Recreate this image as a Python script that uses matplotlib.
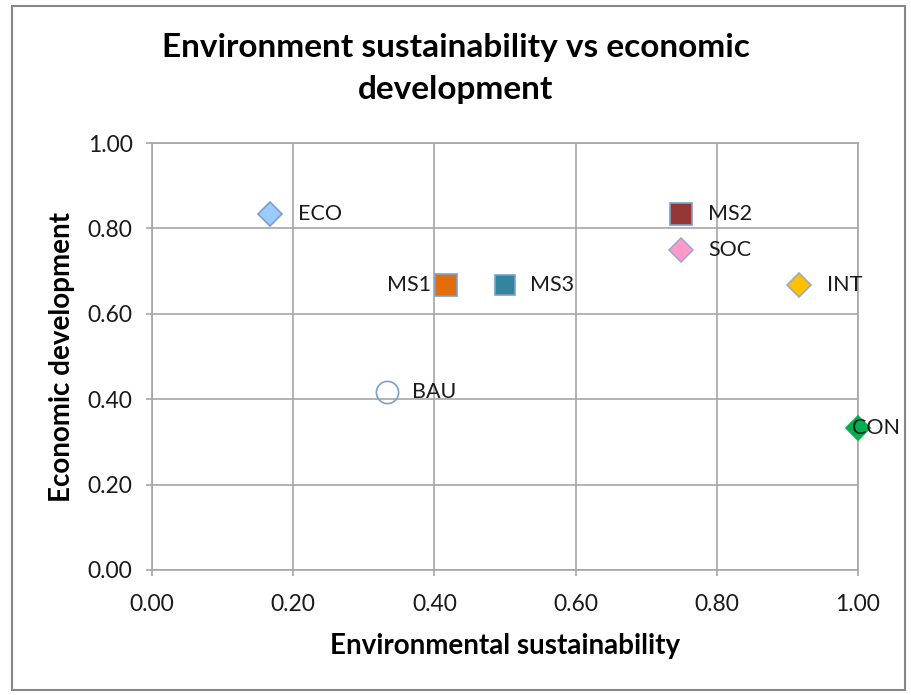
import matplotlib.pyplot as plt
from matplotlib.patches import Rectangle

plt.rcParams['font.family'] = ['Lato', 'DejaVu Sans']

names = ['ECO', 'MS1', 'MS3', 'MS2', 'SOC', 'INT', 'BAU', 'CON']
env = [0.167, 0.417, 0.500, 0.750, 0.750, 0.917, 0.333, 1.000]
eco = [0.833, 0.667, 0.667, 0.833, 0.750, 0.667, 0.417, 0.333]

markers = ['D', 's', 's', 's', 'D', 'D', 'o', 'D']
faces = ['#99ccff', '#e46c0a', '#31859c', '#953735', '#ff99cc', '#ffc000', 'none', '#00b050']
edges = ['#7ba0cd', '#7ba0cd', '#7ba0cd', '#7ba0cd', '#a0a8d0', '#a0a8c0', '#7ba0cd', '#00b050']
sizes = [12, 16, 15, 16, 12, 12, 16, 12]
# label offsets in points and alignment
offs = [(20, 'left'), (-11, 'right'), (18, 'left'), (19, 'left'),
        (19, 'left'), (20, 'left'), (18, 'left'), (-4, 'left')]

fig = plt.figure(figsize=(9.11, 6.95), dpi=100)
ax = fig.add_axes([152/911, 125/695, 706/911, 427/695])

for i in range(len(names)):
    ax.plot(env[i], eco[i], marker=markers[i], markersize=sizes[i],
            markerfacecolor=faces[i], markeredgecolor=edges[i],
            markeredgewidth=1.2, linestyle='none', zorder=3, clip_on=False)
    dx, ha = offs[i]
    ax.annotate(names[i], (env[i], eco[i]), xytext=(dx, 0), textcoords='offset points',
                ha=ha, va='center', fontsize=15.5, color='#1a1a1a', zorder=4)

ax.set_xlim(0, 1)
ax.set_ylim(0, 1)
ax.set_xticks([0, 0.2, 0.4, 0.6, 0.8, 1.0])
ax.set_yticks([0, 0.2, 0.4, 0.6, 0.8, 1.0])
ax.set_xticklabels(['%.2f' % v for v in ax.get_xticks()])
ax.set_yticklabels(['%.2f' % v for v in ax.get_yticks()])
ax.tick_params(labelsize=16.5, length=4, width=1.2, color='#a6a6a6',
               labelcolor='#1a1a1a')
ax.tick_params(axis='y', pad=10)
ax.tick_params(axis='x', pad=13)
ax.grid(True, color='#a6a6a6', linewidth=1.2)
for s in ax.spines.values():
    s.set_color('#a6a6a6')
    s.set_linewidth(1.2)

ax.set_xlabel('Environmental sustainability', fontsize=20, fontweight='bold', labelpad=13)
ax.set_ylabel('Economic development', fontsize=20, fontweight='bold', labelpad=9)

fig.text(0.5, 1 - 48/695, 'Environment sustainability vs economic', ha='center', va='center',
         fontsize=24, fontweight='bold')
fig.text(0.5, 1 - 90/695, 'development', ha='center', va='center',
         fontsize=24, fontweight='bold')

# outer chart border
fig.patches.append(Rectangle((12/911, 5/695), 893/911, 684/695, transform=fig.transFigure,
                             fill=False, edgecolor='#868686', linewidth=1.5))

fig.savefig('out.png', dpi=100)
